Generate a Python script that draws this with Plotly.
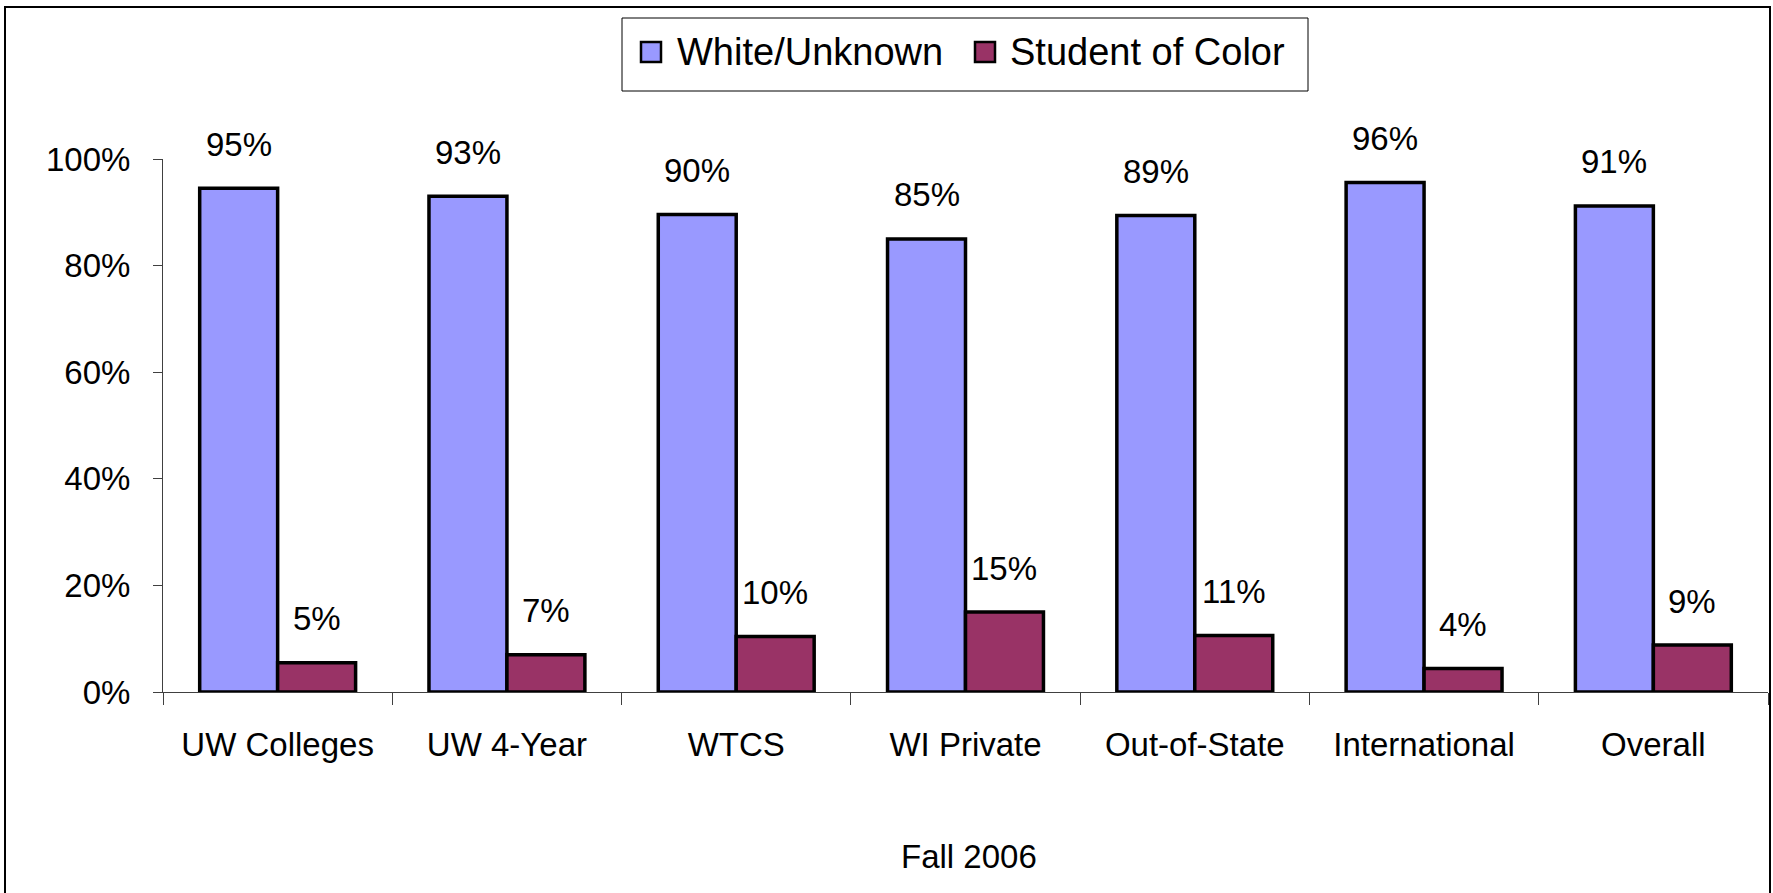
import plotly.graph_objects as go

# data
categories = ['UW Colleges', 'UW 4-Year', 'WTCS', 'WI Private', 'Out-of-State', 'International', 'Overall']
white_unknown = [94.5, 93.0, 89.6, 85.0, 89.4, 95.6, 91.2]
student_of_color = [5.5, 7.0, 10.4, 15.0, 10.6, 4.4, 8.8]
white_labels = ['95%', '93%', '90%', '85%', '89%', '96%', '91%']
color_labels = ['5%', '7%', '10%', '15%', '11%', '4%', '9%']
series_names = ['White/Unknown', 'Student of Color']
series_colors = ['#9999FF', '#993366']
y_ticks = [0, 20, 40, 60, 80, 100]
y_tick_text = ['0%', '20%', '40%', '60%', '80%', '100%']
x_title = 'Fall 2006'

W, H = 1773, 893
ML, MR, MT, MB = 163, 5, 159, 201
plot_w = W - ML - MR
plot_h = H - MT - MB
BARGAP = 0.32
FONT = 'Liberation Sans, Arial, sans-serif'


def px_x(p):
    return (p - ML) / plot_w


def px_y(p):
    return (H - MB - p) / plot_h


cat_px = plot_w / len(categories)
bar_px = cat_px * (1 - BARGAP) / 2

fig = go.Figure()
for name, vals, col in zip(series_names, [white_unknown, student_of_color], series_colors):
    fig.add_trace(go.Bar(
        x=categories, y=vals, name=name, showlegend=False,
        marker=dict(color=col, line=dict(color='black', width=3.5)),
    ))

annotations = []
for cat, v, t in zip(categories, white_unknown, white_labels):
    annotations.append(dict(x=cat, y=v, text=t, xref='x', yref='y', showarrow=False,
                            xshift=-bar_px / 2, yshift=44, yanchor='middle',
                            font=dict(size=33, color='black', family=FONT)))
for cat, v, t in zip(categories, student_of_color, color_labels):
    annotations.append(dict(x=cat, y=v, text=t, xref='x', yref='y', showarrow=False,
                            xshift=bar_px / 2, yshift=44, yanchor='middle',
                            font=dict(size=33, color='black', family=FONT)))
annotations.append(dict(x=px_x(969), y=px_y(856), xref='paper', yref='paper', text=x_title,
                        showarrow=False, xanchor='center', yanchor='middle',
                        font=dict(size=33, color='black', family=FONT)))

# legend drawn by hand: framed box, square swatches, text
shapes = [
    dict(type='rect', xref='paper', yref='paper',
         x0=px_x(5), x1=px_x(1770), y0=px_y(7), y1=px_y(905),
         line=dict(color='black', width=2), fillcolor='rgba(0,0,0,0)'),
    dict(type='rect', xref='paper', yref='paper',
         x0=px_x(622), x1=px_x(1308), y0=px_y(18), y1=px_y(91),
         line=dict(color='black', width=1), fillcolor='white'),
]
legend_swatch_x = [651, 985]
legend_text_x = [675, 1008]
for name, col, sx, tx in zip(series_names, series_colors, legend_swatch_x, legend_text_x):
    shapes.append(dict(type='rect', xref='paper', yref='paper',
                       x0=px_x(sx - 10), x1=px_x(sx + 10), y0=px_y(42), y1=px_y(62),
                       line=dict(color='black', width=2.5), fillcolor=col))
    annotations.append(dict(x=px_x(tx), y=px_y(52), xref='paper', yref='paper', text=name,
                            showarrow=False, xanchor='left', yanchor='middle',
                            font=dict(size=38, color='black', family=FONT)))

fig.update_layout(
    width=W, height=H,
    margin=dict(l=ML, r=MR, t=MT, b=MB, autoexpand=False),
    paper_bgcolor='white', plot_bgcolor='white',
    barmode='group', bargap=BARGAP, bargroupgap=0,
    font=dict(family=FONT, size=33, color='black'),
    annotations=annotations,
    shapes=shapes,
    xaxis=dict(
        showline=True, linecolor='#404040', linewidth=1,
        ticks='outside', tickson='boundaries', ticklen=12, tickcolor='#404040',
        showgrid=False, ticklabelstandoff=23,
        tickfont=dict(size=33, family=FONT, color='black'),
    ),
    yaxis=dict(
        range=[0, 100], tickvals=y_ticks, ticktext=y_tick_text,
        showline=True, linecolor='#404040', linewidth=1,
        ticks='outside', ticklen=9, tickcolor='#404040',
        showgrid=False, zeroline=False, ticklabelstandoff=16,
        tickfont=dict(size=33, family=FONT, color='black'),
    ),
)

fig.write_html('out.html', config={'displayModeBar': False},
               post_script="document.body.style.margin='0';document.body.style.overflow='hidden';")
